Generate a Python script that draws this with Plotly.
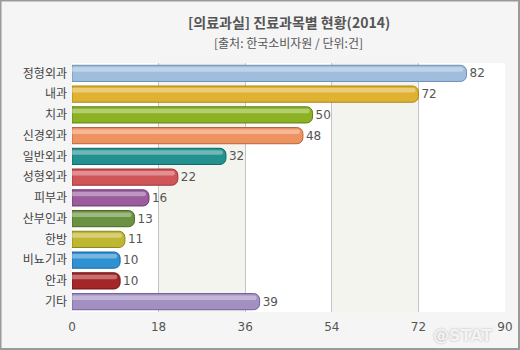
import plotly.graph_objects as go

categories = ["정형외과", "내과", "치과", "신경외과", "일반외과", "성형외과", "피부과", "산부인과", "한방", "비뇨기과", "안과", "기타"]
values = [82, 72, 50, 48, 32, 22, 16, 13, 11, 10, 10, 39]
colors = ["#9fbddd", "#e0b232", "#8cb224", "#ee9262", "#23918f", "#d05558", "#9a5c9c", "#6a9240", "#bfb732", "#2f90d2", "#a52628", "#a390c2"]
edge_colors = ["#6f8fb5", "#a88418", "#5f8014", "#b8643a", "#0f6866", "#9c3336", "#6c3a6e", "#486a26", "#8c861a", "#1c679e", "#721416", "#74619a"]
tick_vals = [0, 18, 36, 54, 72, 90]

W, H = 520, 350
ml, mr, mt, mb = 72, 15, 63, 38
pw, ph = W - ml - mr, H - mt - mb

fig = go.Figure()
fig.add_trace(go.Bar(
    x=values, y=categories, orientation="h",
    marker=dict(color=colors, line=dict(color=edge_colors, width=1), cornerradius=6),
    width=0.78,
    text=[str(v) for v in values], textposition="outside",
    textfont=dict(color="#555555", size=12, family="DejaVu Sans"),
    cliponaxis=False, hoverinfo="skip",
))
# highlight stripe to hint at the glossy gradient
fig.add_trace(go.Bar(
    x=[v - 0.6 for v in values], y=categories, orientation="h",
    marker=dict(color="rgba(255,255,255,0.35)", line=dict(width=0), cornerradius=4),
    width=0.22, offset=-0.3,
    hoverinfo="skip",
))

shapes = []
for a, b in [(18, 36), (54, 72)]:
    shapes.append(dict(type="rect", xref="x", yref="paper", x0=a, x1=b, y0=0, y1=1,
                       fillcolor="#f4f4ef", line=dict(width=0), layer="below"))
# outer border
shapes.append(dict(type="rect", xref="paper", yref="paper",
                   x0=-ml / pw + 0.5 / pw, x1=1 + mr / pw - 1 / pw,
                   y0=-mb / ph + 1 / ph, y1=1 + mt / ph - 0.5 / ph,
                   line=dict(color="#9a9a9a", width=2), fillcolor="rgba(0,0,0,0)", layer="above"))

fig.update_layout(
    width=W, height=H,
    margin=dict(l=ml, r=mr, t=mt, b=mb, autoexpand=False),
    paper_bgcolor="#f5f5f5", plot_bgcolor="#ffffff",
    barmode="overlay", showlegend=False,
    shapes=shapes,
    font=dict(family="Noto Sans CJK KR", color="#555555", size=12),
    annotations=[
        dict(text="<b>[의료과실] 진료과목별 현황(2014)</b>", x=0.5, y=1 + (mt - 22) / ph, xref="paper", yref="paper",
             yanchor="middle", showarrow=False, font=dict(size=14, color="#555555", family="Noto Sans CJK KR")),
        dict(text="[출처: 한국소비자원 / 단위:건]", x=0.5, y=1 + (mt - 43) / ph, xref="paper", yref="paper",
             yanchor="middle", showarrow=False, font=dict(size=12, color="#555555", family="Noto Sans CJK KR")),
        dict(text="<b>@STAT</b>", x=1 + mr / pw - 26 / pw, y=-mb / ph + 3 / ph, xref="paper", yref="paper",
             xanchor="right", yanchor="bottom", showarrow=False,
             font=dict(size=16, color="rgba(255,255,255,0.85)", family="DejaVu Sans",
                       shadow="0 0 2px #9a9a9a")),
    ],
)

fig.update_xaxes(range=[0, 90], tickvals=tick_vals, showgrid=True, gridcolor="#c4c4c4", gridwidth=1,
                 zeroline=False, showline=False, ticks="", automargin=False,
                 tickfont=dict(color="#555555", size=12, family="DejaVu Sans"),
                 ticklabelstandoff=6)
fig.update_yaxes(autorange="reversed", showgrid=False, ticks="", showline=False, automargin=False,
                 tickfont=dict(color="#444444", size=12, family="Noto Sans CJK KR"), ticklabelstandoff=4)

fig.write_html("out.html")
